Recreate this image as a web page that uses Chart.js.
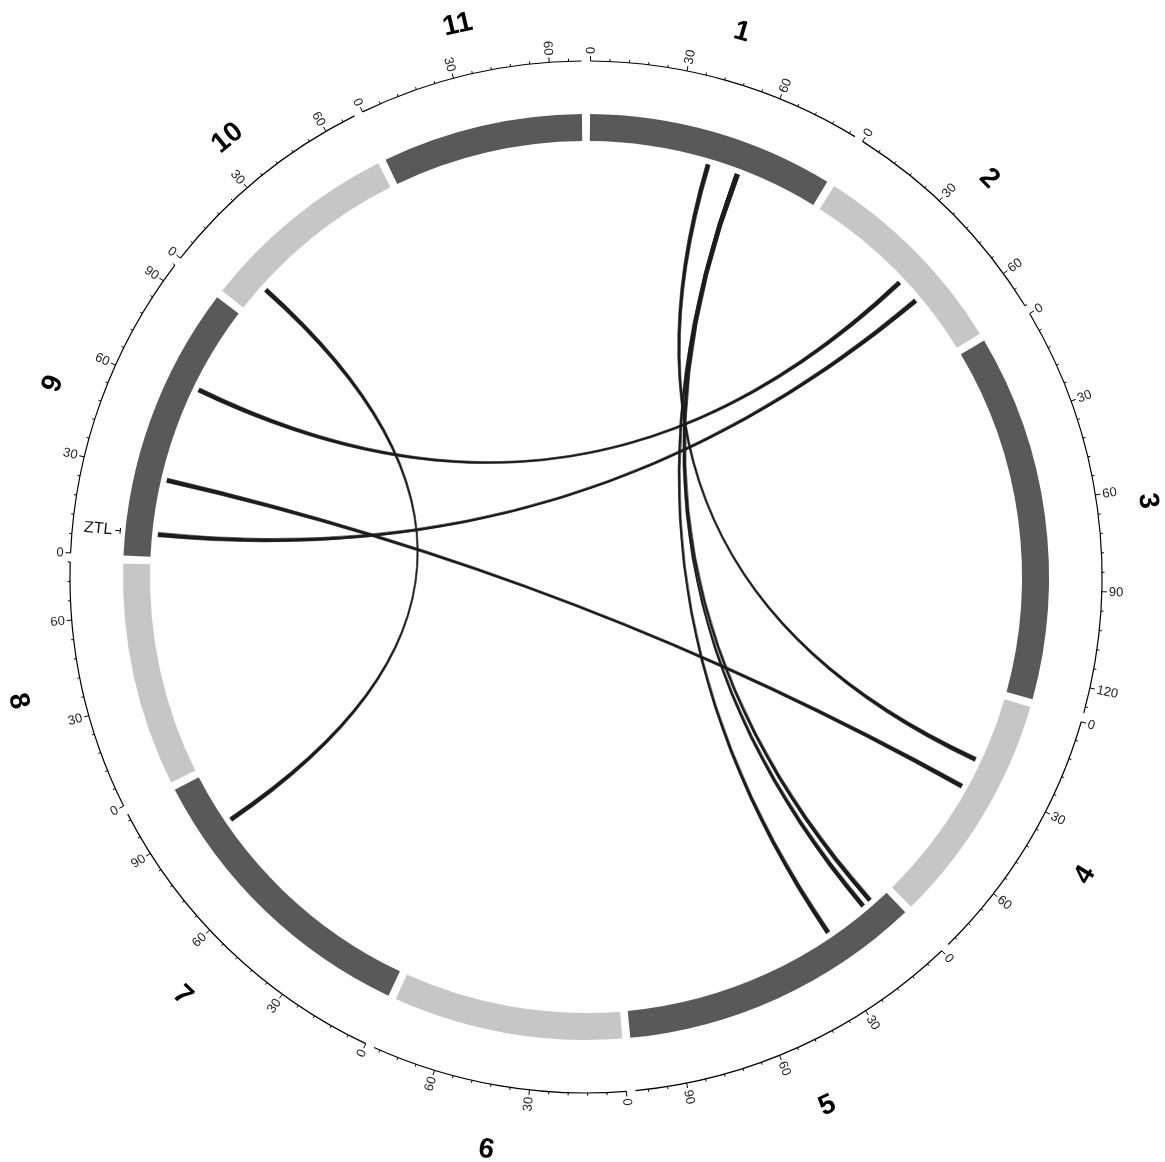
<!DOCTYPE html>
<html>
<head>
<meta charset="utf-8">
<title>Circular genome map</title>
<script src="https://cdn.jsdelivr.net/npm/chart.js@4.4.1/dist/chart.umd.min.js"></script>
<style>
  html, body { margin: 0; padding: 0; background: #ffffff; }
  #wrap { width: 1165px; height: 1162px; position: relative; }
</style>
</head>
<body>
<div id="wrap"><canvas id="chart"></canvas></div>
<script>
// Chromosomes (cM) in drawing order, clockwise from the top
const chromosomes = ['1', '2', '3', '4', '5', '6', '7', '8', '9', '10', '11'];
const chromLengths = [86, 72, 128, 81, 106, 80, 104, 78, 96, 70, 70];
const chromColors = ['#595959', '#c6c6c6', '#595959', '#c6c6c6', '#595959', '#c6c6c6',
                     '#595959', '#c6c6c6', '#595959', '#c6c6c6', '#595959'];

// Axis ticks
const majorTickStep = 30;
const minorTickStep = 6;

// Links between loci: [chromosome, position]
const linkFrom = [['1', 44.5], ['1', 55.9], ['1', 55.9], ['1', 55.9], ['2', 40.0], ['2', 49.0], ['9', 28.7], ['10', 10.3]];
const linkTo   = [['4', 24.5], ['5', 26.0], ['5', 6.4],  ['5', 9.7],  ['9', 64.3], ['9', 8.3],  ['4', 35.6], ['7', 84.6]];

// Labelled genes
const geneNames = ['ZTL'];
const geneChroms = ['9'];
const genePositions = [8.3];

// Layout
const GAP_DEG = 1;
const R_OUT = 463, R_IN = 436, R_LINK = 430, R_AXIS = 516;
const R_NAME_TOP = 569, R_NAME_BOTTOM = 579;
const LINK_WIDTH = 1.6;

const total = chromLengths.reduce((a, b) => a + b, 0);
const degPerUnit = (360 - GAP_DEG * chromosomes.length) / total;
const gapUnits = GAP_DEG / degPerUnit;

// doughnut data: chromosome, gap, chromosome, gap ...
const ringData = [], ringColors = [];
chromLengths.forEach((len, i) => {
  ringData.push(len); ringColors.push(chromColors[i]);
  ringData.push(gapUnits); ringColors.push('rgba(0,0,0,0)');
});

const FONT = "'Liberation Sans', Arial, Helvetica, sans-serif";

const circosPlugin = {
  id: 'circos',
  afterDatasetsDraw(chart) {
    const ctx = chart.ctx;
    const meta = chart.getDatasetMeta(0);
    const arcs = chromosomes.map((c, i) => meta.data[2 * i].getProps(['x', 'y', 'startAngle', 'endAngle'], true));
    const cx = arcs[0].x, cy = arcs[0].y;
    const idx = name => chromosomes.indexOf(name);
    const ang = (i, p) => arcs[i].startAngle + (p / chromLengths[i]) * (arcs[i].endAngle - arcs[i].startAngle);
    const pt = (a, r) => [cx + r * Math.cos(a), cy + r * Math.sin(a)];

    ctx.save();
    ctx.strokeStyle = '#000';
    ctx.fillStyle = '#000';

    // axes with ticks and labels
    chromosomes.forEach((c, i) => {
      const len = chromLengths[i];
      ctx.lineWidth = 1.2;
      ctx.beginPath();
      ctx.arc(cx, cy, R_AXIS, ang(i, 0), ang(i, len));
      ctx.stroke();
      for (let p = 0; p <= len + 1e-6; p += minorTickStep) {
        const major = Math.abs(p % majorTickStep) < 1e-6;
        const a = ang(i, p);
        const tl = major ? 5 : 2.6;
        const p1 = pt(a, R_AXIS), p2 = pt(a, R_AXIS + tl);
        ctx.lineWidth = 1;
        ctx.beginPath(); ctx.moveTo(p1[0], p1[1]); ctx.lineTo(p2[0], p2[1]); ctx.stroke();
        if (major) {
          const lp = pt(a, R_AXIS + 7);
          const right = Math.cos(a) >= 0;
          ctx.save();
          ctx.translate(lp[0], lp[1]);
          ctx.rotate(right ? a : a + Math.PI);
          ctx.font = '13px ' + FONT;
          ctx.textAlign = right ? 'left' : 'right';
          ctx.textBaseline = 'middle';
          ctx.fillStyle = '#222';
          ctx.fillText(String(p), 0, 0.5);
          ctx.restore();
        }
      }
      // chromosome name, centred on the glyphs
      const am = ang(i, len / 2);
      const top = Math.sin(am) <= 0;
      const np = pt(am, top ? R_NAME_TOP : R_NAME_BOTTOM);
      ctx.save();
      ctx.translate(np[0], np[1]);
      ctx.rotate(top ? am + Math.PI / 2 : am - Math.PI / 2);
      ctx.font = 'bold 28px ' + FONT;
      ctx.textAlign = 'center';
      ctx.textBaseline = 'alphabetic';
      ctx.fillText(c, 0, 10);
      ctx.restore();
    });

    // gene labels
    geneNames.forEach((g, k) => {
      const i = idx(geneChroms[k]);
      const a = ang(i, genePositions[k]);
      const p1 = pt(a, R_OUT + 5), p2 = pt(a, R_OUT + 10);
      ctx.lineWidth = 1;
      ctx.beginPath(); ctx.moveTo(p1[0], p1[1]); ctx.lineTo(p2[0], p2[1]); ctx.stroke();
      const c1 = pt(a - 0.006, R_OUT + 5), c2 = pt(a + 0.006, R_OUT + 5);
      ctx.beginPath(); ctx.moveTo(c1[0], c1[1]); ctx.lineTo(c2[0], c2[1]); ctx.stroke();
      const lp = pt(a, R_OUT + 13);
      const right = Math.cos(a) >= 0;
      ctx.save();
      ctx.translate(lp[0], lp[1]);
      ctx.rotate(right ? a : a + Math.PI);
      ctx.font = '16px ' + FONT;
      ctx.textAlign = right ? 'left' : 'right';
      ctx.textBaseline = 'middle';
      ctx.fillStyle = '#111';
      ctx.fillText(g, 0, 0);
      ctx.restore();
    });

    // links as thin ribbons bent through the centre
    ctx.fillStyle = '#1c1c1c';
    ctx.strokeStyle = '#1c1c1c';
    ctx.lineWidth = 0.6;
    linkFrom.forEach((from, k) => {
      const to = linkTo[k];
      const ia = idx(from[0]), ib = idx(to[0]);
      const a1 = ang(ia, from[1] - LINK_WIDTH / 2), a2 = ang(ia, from[1] + LINK_WIDTH / 2);
      const b1 = ang(ib, to[1] - LINK_WIDTH / 2), b2 = ang(ib, to[1] + LINK_WIDTH / 2);
      const pa1 = pt(a1, R_LINK), pb1 = pt(b1, R_LINK);
      ctx.beginPath();
      ctx.moveTo(pa1[0], pa1[1]);
      ctx.arc(cx, cy, R_LINK, a1, a2);
      ctx.quadraticCurveTo(cx, cy, pb1[0], pb1[1]);
      ctx.arc(cx, cy, R_LINK, b1, b2);
      ctx.quadraticCurveTo(cx, cy, pa1[0], pa1[1]);
      ctx.closePath();
      ctx.fill();
      ctx.stroke();
    });
    ctx.restore();
  }
};

new Chart(document.getElementById('chart'), {
  type: 'doughnut',
  data: {
    labels: ringData.map((v, i) => i % 2 === 0 ? chromosomes[i / 2] : ''),
    datasets: [{
      data: ringData,
      backgroundColor: ringColors,
      borderWidth: 0,
      hoverOffset: 0
    }]
  },
  options: {
    responsive: true,
    maintainAspectRatio: false,
    animation: false,
    events: [],
    rotation: GAP_DEG / 2,
    circumference: 360,
    radius: R_OUT,
    cutout: (R_IN / R_OUT * 100) + '%',
    layout: { padding: { left: 7, right: 0, top: 0, bottom: 8 } },
    plugins: { legend: { display: false }, tooltip: { enabled: false } }
  },
  plugins: [circosPlugin]
});
</script>
</body>
</html>
